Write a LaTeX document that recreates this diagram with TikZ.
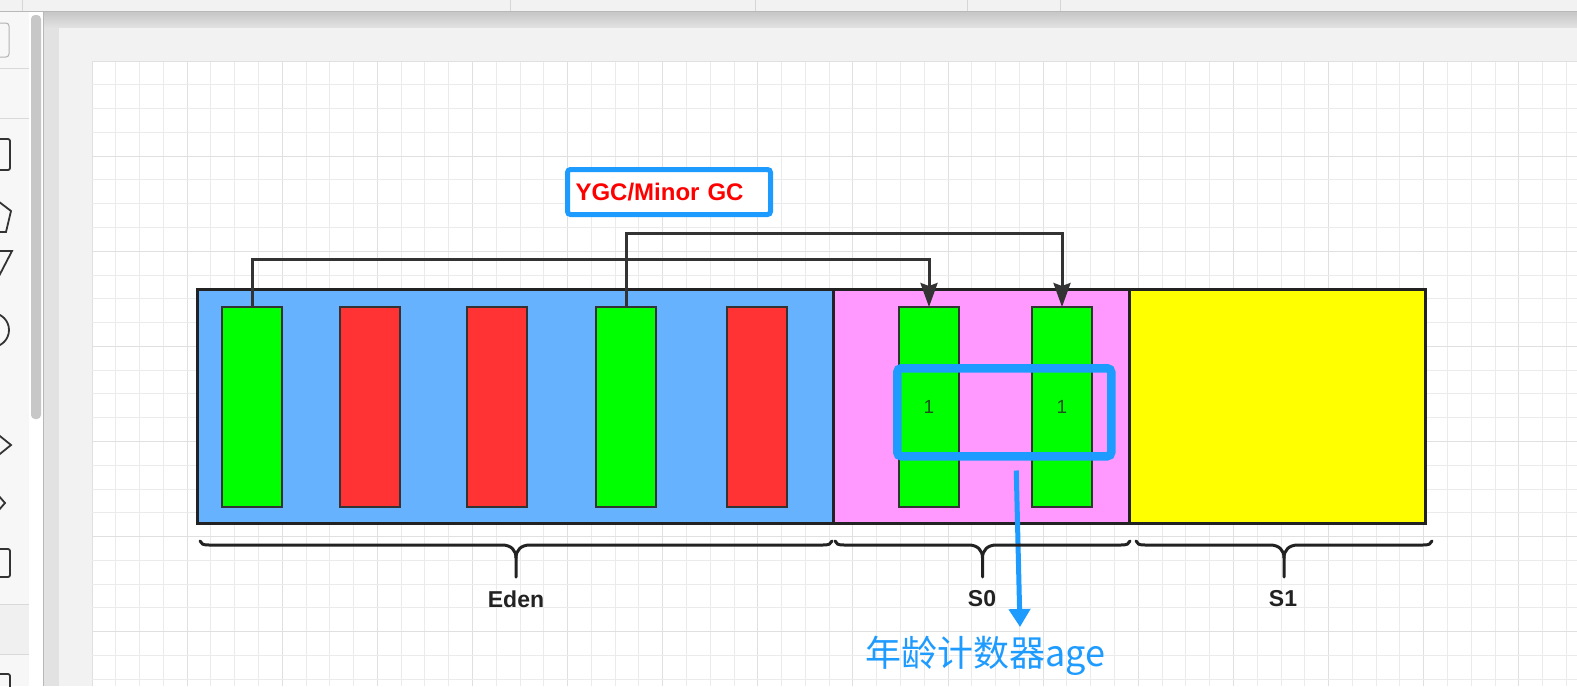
\documentclass[tikz,border=0pt]{standalone}
\usepackage{fontspec}
\setmainfont{Liberation Sans}
\newfontfamily\cjkfont{Noto Sans CJK SC}
\usetikzlibrary{arrows.meta,calc}

\definecolor{edenblue}{HTML}{66B2FF}
\definecolor{surpink}{HTML}{FF99FF}
\definecolor{suryellow}{HTML}{FFFF00}
\definecolor{livegreen}{HTML}{00FF00}
\definecolor{deadred}{HTML}{FF3333}
\definecolor{hiblue}{HTML}{1E9BFF}
\definecolor{edgegray}{HTML}{222222}
\definecolor{linkgray}{HTML}{333333}
\definecolor{gridminor}{HTML}{EBEBEB}
\definecolor{gridmajor}{HTML}{E0E0E0}
\definecolor{pagegray}{HTML}{F2F2F2}
\definecolor{canvasgray}{HTML}{E2E2E2}
\definecolor{barlabel}{HTML}{1F4F1F}

\tikzset{
  region/.style={draw=edgegray, line width=3pt, inner sep=0pt, outer sep=0pt, anchor=north west,
                 minimum height=234pt},
  objbar/.style={draw=linkgray, line width=2.8pt, inner sep=0pt, outer sep=0pt, anchor=north west,
                 minimum width=60pt, minimum height=200pt, font=\fontsize{19}{19}\selectfont, text=barlabel},
  live/.style={objbar, fill=livegreen},
  dead/.style={objbar, fill=deadred},
  conn/.style={draw=linkgray, line width=3pt, -{Stealth[length=24pt,width=17pt,inset=3pt]}},
  hilite/.style={draw=hiblue, line width=8.5pt, rounded corners=4pt, inner sep=0pt, anchor=north west},
  ygcbox/.style={draw=hiblue, line width=5pt, rounded corners=3pt, fill=white, anchor=north west,
                 minimum height=45pt, text width=187pt, inner xsep=8pt, align=left,
                 font=\fontsize{24}{24}\selectfont\bfseries, text=red},
  bracepath/.style={draw=edgegray, line width=3pt, line join=round, line cap=round},
  spacename/.style={font=\fontsize{23}{23}\selectfont\bfseries, text=edgegray, inner sep=0pt},
  agearrow/.style={draw=hiblue, line width=5pt, -{Triangle[length=18pt,width=21pt]}},
  icon/.style={draw=linkgray, line width=1.8pt},
}

\begin{document}
\begin{tikzpicture}[x=1pt,y=-1pt]
\useasboundingbox (0,0) rectangle (1577,686);
\clip (0,0) rectangle (1577,686);

% ---- editor chrome ----
\fill[canvasgray] (0,0) rectangle (1577,686);
\fill[white!95!black] (0,0) rectangle (1577,11);
\foreach \sx in {22,510,755,967,1060} \draw[black!16, line width=1pt] (\sx,0) -- (\sx,11);
\draw[black!28, line width=1.2pt] (0,11.5) -- (1577,11.5);
\shade[top color=black!22, bottom color=black!11] (44,12) rectangle (1577,28);
\fill[pagegray] (59,28) rectangle (1577,686);

% sidebar
\fill[white!97!black] (0,12) rectangle (29,686);
\fill[white] (29,12) rectangle (43,686);
\fill[black!22, rounded corners=4pt] (31,15) rectangle (41,419);
\draw[black!28, line width=1pt] (43.5,12) -- (43.5,686);
\fill[white!94!black] (0,604) rectangle (29,654);
\foreach \sy in {68,118,604,654} \draw[black!15, line width=1pt] (0,\sy) -- (29,\sy);
\draw[black!30, line width=1pt, rounded corners=3pt] (-20,23) rectangle (9,57);
\draw[icon, rounded corners=2pt] (-20,139) rectangle (10,170);
\draw[icon] (-6,198) -- (11,211) -- (6,232) -- (-18,232);
\draw[icon] (-20,251) -- (12,251) -- (-2,278);
\draw[icon] (-8,330) circle (17);
\draw[icon] (-10,428) -- (11,445) -- (-10,462);
\draw[icon] (-2,495) -- (5,503) -- (-2,511);
\draw[icon, rounded corners=2pt] (-20,549) rectangle (10,577);
\draw[icon, rounded corners=2pt] (-20,674) rectangle (10,700);

% drawing grid
\fill[white] (92,61) rectangle (1577,686);
\foreach \i in {0,...,62} {
  \pgfmathsetmacro{\gx}{92+\i*23.78}
  \pgfmathtruncatemacro{\gm}{mod(\i,4)}
  \ifnum\gm=0 \draw[gridmajor, line width=1pt] (\gx,61) -- (\gx,686);
  \else \draw[gridminor, line width=1pt] (\gx,61) -- (\gx,686); \fi
}
\foreach \j in {0,...,26} {
  \pgfmathsetmacro{\gy}{61+\j*23.78}
  \pgfmathtruncatemacro{\gm}{mod(\j,4)}
  \ifnum\gm=0 \draw[gridmajor, line width=1pt] (92,\gy) -- (1577,\gy);
  \else \draw[gridminor, line width=1pt] (92,\gy) -- (1577,\gy); \fi
}

% ---- heap spaces ----
\node[region, fill=edenblue,  minimum width=636pt] (eden) at (197,289) {};
\node[region, fill=surpink,   minimum width=296pt] (szero) at (833,289) {};
\node[region, fill=suryellow, minimum width=296pt] (sone) at (1129,289) {};

% objects in Eden
\node[live] (e1) at (222,307) {};
\node[dead] (e2) at (340,307) {};
\node[dead] (e3) at (467,307) {};
\node[live] (e4) at (596,307) {};
\node[dead] (e5) at (727,307) {};

% survivors copied to S0, age 1
\node[live] (s1) at (899,307) {1};
\node[live] (s2) at (1032,307) {1};

% minor GC label
\node[ygcbox] (ygc) at (565,167) {YGC/Minor GC};

% copy paths
\coordinate (lowrail) at (0,259);
\coordinate (highrail) at (0,233);
\draw[conn] (e1.north) -- (e1.north |- lowrail) -| (s1.north);
\draw[conn] (e4.north) -- (e4.north |- highrail) -| (s2.north);

% age counter highlight
\node[hilite, minimum width=214pt, minimum height=88pt] (hl) at (893,364) {};
\node[anchor=base west, inner sep=0pt, text=hiblue, font=\cjkfont\fontsize{36}{36}\selectfont] (age) at (865,666) {年龄计数器age};
\coordinate (agetip) at (1020,627);
\draw[agearrow] ($(hl.south)+(12,10)$) -- (agetip);

% braces under the spaces
\foreach \xa/\xb in {200/832, 835/1130, 1136/1432} {
  \pgfmathsetmacro{\xm}{(\xa+\xb)/2}
  \draw[bracepath] (\xa,541) .. controls (\xa+1,544) and (\xa+3,545) .. (\xa+9,545)
     -- (\xm-14,545) .. controls (\xm-5,545) and (\xm,550) .. (\xm,558) -- (\xm,577);
  \draw[bracepath] (\xm,558) .. controls (\xm,550) and (\xm+5,545) .. (\xm+14,545)
     -- (\xb-9,545) .. controls (\xb-3,545) and (\xb-1,544) .. (\xb,541);
}
\node[spacename] (edenname) at (516,599) {Eden};
\node[spacename] (szeroname) at (982,599) {S0};
\node[spacename] (sonename) at (1283,599) {S1};
\end{tikzpicture}
\end{document}
